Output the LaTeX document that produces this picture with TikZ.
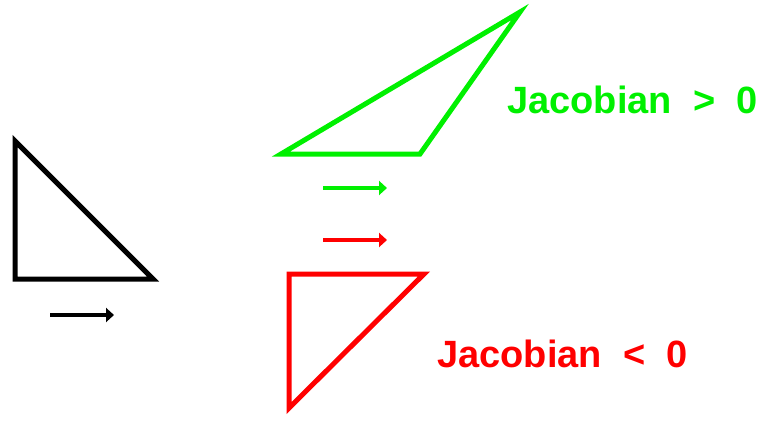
\documentclass[tikz,border=0pt]{standalone}
\usepackage{fontspec}
\setmainfont{Liberation Sans}
\usetikzlibrary{arrows.meta}
\definecolor{jgreen}{RGB}{0,240,0}
\definecolor{jred}{RGB}{255,0,0}
\tikzset{
  elem/.style={line width=5pt},
  dirarrow/.style={line width=4.5pt,-{Triangle[length=8pt,width=14pt]}},
  jaclabel/.style={anchor=base west,inner sep=0pt,font=\fontsize{38}{40}\selectfont\bfseries}
}
\begin{document}
\begin{tikzpicture}[x=1pt,y=-1pt]
\useasboundingbox (0,0) rectangle (761,421);
% reference element
\draw[elem] (15,141) -- (15,279) -- (153,279) -- cycle;
\coordinate (a0) at (50,315);
\coordinate (a1) at (114,315);
\draw[dirarrow] (a0) -- (a1);

% positive jacobian
\draw[elem,jgreen] (281,154) -- (520,12) -- (420,154) -- cycle;
\coordinate (g0) at (323,188);
\coordinate (g1) at (387,188);
\draw[dirarrow,jgreen] (g0) -- (g1);
\node[jaclabel,jgreen] (jpos) at (507,113) {Jacobian\ \ >\ \ 0};

% negative jacobian
\coordinate (r0) at (323,240);
\coordinate (r1) at (387,240);
\draw[dirarrow,jred] (r0) -- (r1);
\draw[elem,jred] (289,274) -- (424,274) -- (289,408) -- cycle;
\node[jaclabel,jred] (jneg) at (437,367) {Jacobian\ \ <\ \ 0};
\end{tikzpicture}
\end{document}
